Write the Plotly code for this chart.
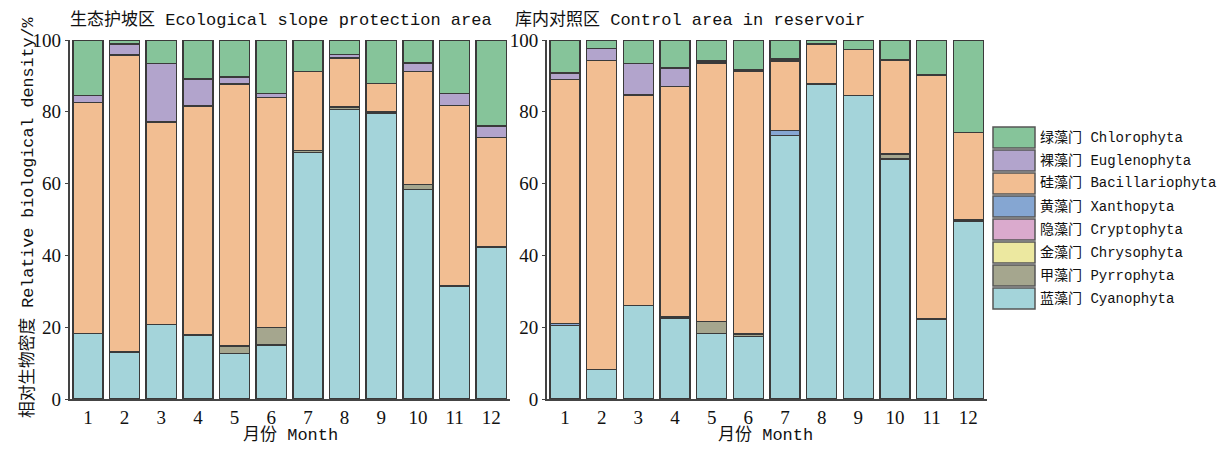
import plotly.graph_objects as go

months = list(range(1, 13))

# legend / stack order (bottom -> top)
phyla = ["蓝藻门 Cyanophyta", "甲藻门 Pyrrophyta", "金藻门 Chrysophyta", "隐藻门 Cryptophyta",
         "黄藻门 Xanthopyta", "硅藻门 Bacillariophyta", "裸藻门 Euglenophyta", "绿藻门 Chlorophyta"]
colors = ["#a4d4da", "#a5a68e", "#ece8a0", "#daaacd", "#85a6d2", "#f2be92", "#b2a4cc", "#86c49a"]

# Ecological slope protection area
cyan_L    = [18.3, 13.1, 20.8, 17.8, 12.7, 15.1, 68.6, 80.7, 79.6, 58.4, 31.5, 42.3]
pyrro_L   = [0, 0, 0, 0, 2.0, 4.8, 0.6, 0.7, 0.5, 1.3, 0, 0]
chryso_L  = [0] * 12
crypto_L  = [0] * 12
xantho_L  = [0] * 12
bacill_L  = [64.3, 82.7, 56.4, 63.8, 73.0, 64.1, 22.0, 13.6, 7.8, 31.5, 50.3, 30.5]
eugl_L    = [1.9, 3.1, 16.3, 7.5, 2.0, 1.1, 0, 0.9, 0, 2.4, 3.3, 3.3]
chloro_L  = [15.5, 1.1, 6.5, 10.9, 10.3, 14.9, 8.8, 4.1, 12.1, 6.4, 14.9, 23.9]

# Control area in reservoir
cyan_R    = [20.5, 8.2, 26.0, 22.5, 18.3, 17.4, 73.4, 87.8, 84.5, 66.9, 22.3, 49.5]
pyrro_R   = [0, 0, 0, 0.4, 3.3, 0.7, 0, 0, 0, 1.4, 0, 0.3]
chryso_R  = [0] * 12
crypto_R  = [0] * 12
xantho_R  = [0.6, 0, 0, 0, 0, 0, 1.4, 0, 0, 0, 0, 0]
bacill_R  = [67.9, 86.1, 58.7, 64.1, 72.0, 73.1, 19.3, 11.1, 12.8, 26.1, 68.0, 24.5]
eugl_R    = [1.8, 3.4, 8.8, 5.2, 0.6, 0.5, 0.6, 0, 0, 0, 0, 0]
chloro_R  = [9.2, 2.3, 6.5, 7.8, 5.8, 8.3, 5.3, 1.1, 2.7, 5.6, 9.7, 25.7]

left_series = [cyan_L, pyrro_L, chryso_L, crypto_L, xantho_L, bacill_L, eugl_L, chloro_L]
right_series = [cyan_R, pyrro_R, chryso_R, crypto_R, xantho_R, bacill_R, eugl_R, chloro_R]

TXT = "Liberation Mono, Noto Sans CJK SC, monospace"
NUM = "Liberation Serif, serif"
OFF = 8  # page body margin
W, H = 1229 - 2 * OFF, 454 - 2 * OFF


def px(x):
    return (x - OFF) / W


def py(y):
    return 1 - (y - OFF) / H


fig = go.Figure()
for name, col, vals in zip(phyla, colors, left_series):
    fig.add_trace(go.Bar(x=months, y=vals, name=name, marker=dict(color=col, line=dict(color="#3a3a3a", width=1.5)),
                         xaxis="x", yaxis="y", showlegend=False))
for name, col, vals in zip(phyla, colors, right_series):
    fig.add_trace(go.Bar(x=months, y=vals, name=name, marker=dict(color=col, line=dict(color="#3a3a3a", width=1.5)),
                         xaxis="x2", yaxis="y2", showlegend=False))

ydom = [py(399), py(40)]
axcommon = dict(showgrid=False, zeroline=False, showline=True, linecolor="#444", linewidth=1.5, automargin=False,
                tickfont=dict(family=NUM, size=19, color="#111"))
fig.update_layout(
    template="none",
    width=W, height=H, barmode="stack", bargap=0.18,
    plot_bgcolor="white", paper_bgcolor="white",
    margin=dict(l=0, r=0, t=0, b=0),
    xaxis=dict(domain=[px(69.6), px(509.6)], range=[0.5, 12.5], tickvals=months, ticks="", anchor="y", **axcommon),
    yaxis=dict(domain=ydom, range=[0, 100], tickvals=[0, 20, 40, 60, 80, 100], ticks="outside", ticklen=3,
               tickcolor="#444", anchor="x", **axcommon),
    xaxis2=dict(domain=[px(546.7), px(986.7)], range=[0.5, 12.5], tickvals=months, ticks="", anchor="y2", **axcommon),
    yaxis2=dict(domain=ydom, range=[0, 100], tickvals=[0, 20, 40, 60, 80, 100], ticks="outside", ticklen=3,
                tickcolor="#444", anchor="x2", **axcommon),
)

ann = [
    dict(text="生态护坡区 Ecological slope protection area", x=px(68), y=py(20), xanchor="left", yanchor="middle", size=17),
    dict(text="库内对照区 Control area in reservoir", x=px(513), y=py(20), xanchor="left", yanchor="middle", size=17),
    dict(text="月份 Month", x=px(290), y=py(435), xanchor="center", yanchor="middle", size=17),
    dict(text="月份 Month", x=px(765), y=py(435), xanchor="center", yanchor="middle", size=17),
    dict(text="相对生物密度 Relative biological density/%", x=px(28), y=py(217), xanchor="center",
         yanchor="middle", textangle=-90, size=16.7),
]
for a in ann:
    sz = a.pop("size")
    fig.add_annotation(xref="paper", yref="paper", showarrow=False,
                       font=dict(family=TXT, size=sz, color="#111"), **a)

# legend (top entry = top of stack)
shapes = []
for i, (name, col) in enumerate(zip(phyla[::-1], colors[::-1])):
    top = 127 + i * 23
    shapes.append(dict(type="rect", xref="paper", yref="paper", x0=px(993), x1=px(1035),
                       y0=py(top + 21), y1=py(top), fillcolor=col,
                       line=dict(color="#555", width=1.5)))
    fig.add_annotation(xref="paper", yref="paper", x=px(1038), y=py(top + 10.5), text=name,
                       showarrow=False, xanchor="left", yanchor="middle",
                       font=dict(family=TXT, size=14, color="#111"))
fig.update_layout(shapes=shapes)

fig.write_html("out.html")
